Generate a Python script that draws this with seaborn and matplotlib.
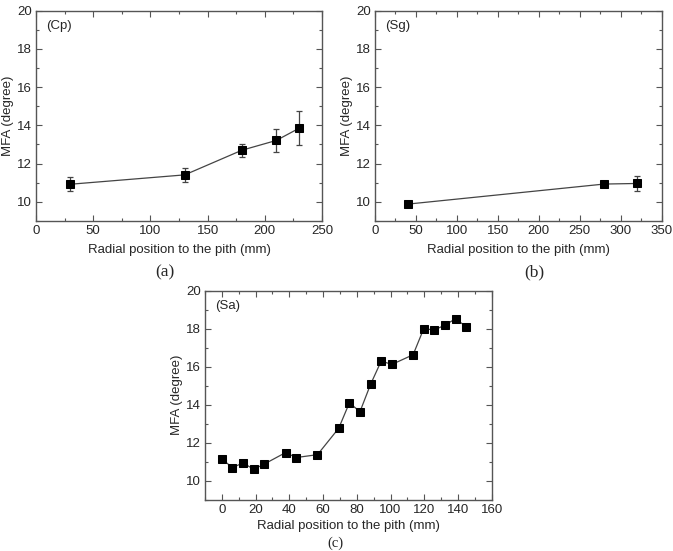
"""MFA vs radial position to the pith, three panels (Cp, Sg, Sa)."""
import matplotlib
matplotlib.use('Agg')
import matplotlib.pyplot as plt
from matplotlib.ticker import MultipleLocator
import pandas as pd
import seaborn as sns

# (a) Cp
CP_X = [30, 130, 180, 210, 230]
CP_Y = [10.92, 11.41, 12.70, 13.21, 13.85]
CP_ERR = [0.36, 0.38, 0.35, 0.62, 0.90]

# (b) Sg
SG_X = [40, 280, 320]
SG_Y = [9.88, 10.93, 10.96]
SG_ERR = [0.10, 0.14, 0.40]

# (c) Sa
SA_X = [0, 6.3, 12.6, 18.9, 25.2, 37.8, 44.1, 56.7, 69.3, 75.6,
        81.9, 88.2, 94.5, 100.8, 113.4, 119.7, 126.0, 132.3, 138.6, 144.9]
SA_Y = [11.15, 10.70, 10.95, 10.61, 10.89, 11.49, 11.23, 11.38, 12.77, 14.10,
        13.64, 15.08, 16.30, 16.12, 16.63, 18.00, 17.93, 18.19, 18.52, 18.10]

FS = 9.5
SPINE = '#555555'
LINE = '#444444'


def _panel(ax, x, y, err, xlim, xmajor, tag, xpad=5):
    df = pd.DataFrame({'x': x, 'y': y})
    sns.lineplot(data=df, x='x', y='y', ax=ax, color=LINE, lw=0.9,
                 marker='s', markersize=5.5, markerfacecolor='black',
                 markeredgecolor='black', zorder=3)
    if err is not None:
        ax.errorbar(x, y, yerr=err, fmt='none', ecolor=LINE,
                    elinewidth=0.9, capsize=2.5, capthick=0.9, zorder=2)
    ax.set_xlim(*xlim)
    ax.set_ylim(9, 20)
    ax.xaxis.set_major_locator(MultipleLocator(xmajor))
    ax.xaxis.set_minor_locator(MultipleLocator(xmajor / 2))
    ax.yaxis.set_major_locator(MultipleLocator(2))
    ax.yaxis.set_minor_locator(MultipleLocator(1))
    ax.tick_params(which='both', direction='in', top=True, right=True,
                   color=SPINE, labelsize=FS, width=0.8)
    ax.tick_params(which='major', length=4, pad=3)
    ax.tick_params(which='minor', length=2)
    for s in ax.spines.values():
        s.set_color(SPINE)
        s.set_linewidth(1.0)
    ax.set_xlabel('Radial position to the pith (mm)', fontsize=FS, labelpad=xpad)
    ax.set_ylabel('MFA (degree)', fontsize=FS, labelpad=2)
    ax.text(0.035, 0.925, tag, transform=ax.transAxes, fontsize=FS,
            ha='left', va='center')


sns.set_theme(style='ticks')
plt.rcParams['font.family'] = ['Liberation Sans', 'DejaVu Sans']

fig = plt.figure(figsize=(6.73, 5.51), dpi=100)
ax_a = fig.add_axes([0.0535, 0.599, 0.425, 0.3817])
ax_b = fig.add_axes([0.557, 0.599, 0.426, 0.3817])
ax_c = fig.add_axes([0.3046, 0.0926, 0.426, 0.380])

_panel(ax_a, CP_X, CP_Y, CP_ERR, (0, 250), 50, '(Cp)')
_panel(ax_b, SG_X, SG_Y, SG_ERR, (0, 350), 50, '(Sg)')
_panel(ax_c, SA_X, SA_Y, None, (-10, 160), 20, '(Sa)', xpad=3)

serif = ['Liberation Serif', 'DejaVu Serif']
fig.text(165 / 673, 1 - 272 / 551, '(a)', family=serif, fontsize=12.5,
         ha='center', va='center')
fig.text(534 / 673, 1 - 272 / 551, '(b)', family=serif, fontsize=12.5,
         ha='center', va='center')
fig.text(335 / 673, 1 / 551, '(c)', family=serif, fontsize=10.5,
         ha='center', va='bottom')

fig.savefig('out.png', dpi=100)
